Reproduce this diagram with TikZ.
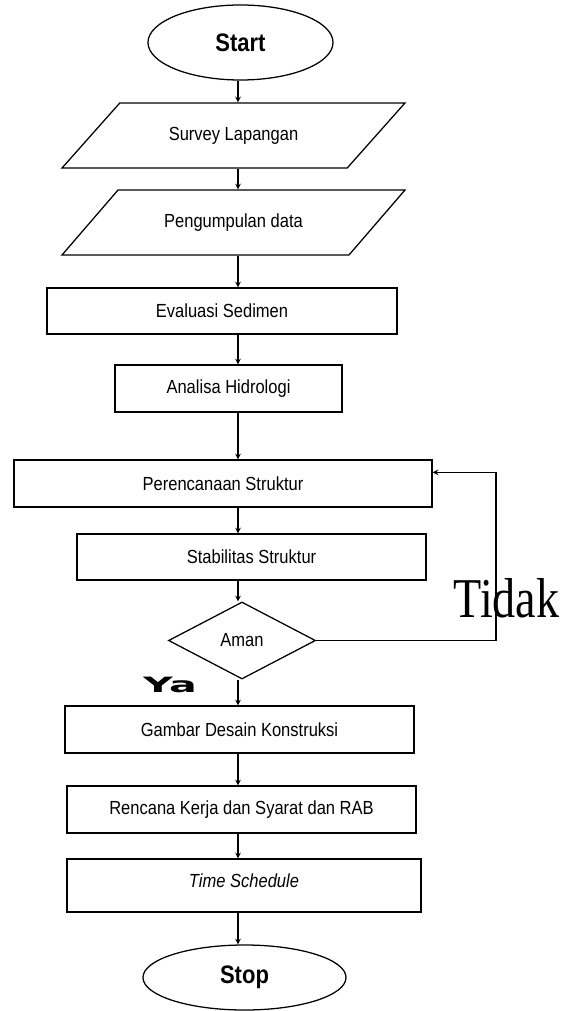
\documentclass[tikz,border=0pt]{standalone}
\usepackage{fontspec}
\setmainfont{Liberation Sans}
\newfontfamily\boxfont[FakeStretch=0.87]{Liberation Sans}
\newfontfamily\tidakfont{Liberation Serif}
\newfontfamily\yafont{DejaVu Sans}
\usepackage{tikz}
\usetikzlibrary{calc,arrows,shapes.geometric}

\begin{document}
\begin{tikzpicture}[x=0.025cm,y=-0.025cm,
  every node/.style={font=\boxfont\fontsize{13.5}{15}\selectfont},
  box/.style={draw,line width=0.9pt,rectangle,minimum height=1.175cm},
  oval/.style={draw,line width=0.9pt,ellipse,inner sep=0pt,
    font=\boxfont\fontsize{18}{20}\selectfont\bfseries},
  slant/.style={draw,line width=0.9pt,trapezium,trapezium stretches=true,
    trapezium left angle=37,trapezium right angle=143,
    minimum width=8.575cm,minimum height=1.625cm},
  arr/.style={line width=0.8pt,-stealth}]
\useasboundingbox (0,0) rectangle (569,1011);

\node[oval,minimum width=4.625cm,minimum height=1.875cm] (start) at (240.5,42.5) {Start};
\node[slant] (survey) at (233.5,135.5) {Survey Lapangan};
\node[slant] (data) at (233.5,222.5) {Pengumpulan data};
\node[box,minimum width=8.75cm,minimum height=1.15cm] (evaluasi) at (222,311) {Evaluasi Sedimen};
\node[box,minimum width=5.675cm] (hidro) at (228.5,388.5) {Analisa Hidrologi};
\node[box,minimum width=10.45cm] (rencana) at (223,483.5) {Perencanaan Struktur};
\node[box,minimum width=8.725cm,minimum height=1.15cm] (stabil) at (251.5,557) {Stabilitas Struktur};
\node[draw,line width=0.9pt,diamond,inner sep=0pt,minimum width=3.675cm,minimum height=1.925cm] (aman) at (242,640.5) {Aman};
\node[box,minimum width=8.725cm] (gambar) at (239.5,729.5) {Gambar Desain Konstruksi};
\node[box,minimum width=8.725cm] (rab) at (241.5,809.5) {Rencana Kerja dan Syarat dan RAB};
\node[box,minimum width=8.85cm,minimum height=1.325cm,text depth=7pt] (jadwal) at (244,885.5) {\itshape Time Schedule};
\node[oval,minimum width=5.075cm,minimum height=1.625cm] (stop) at (244.5,977.5) {Stop};

% arrows down the middle
\coordinate (axis) at (238,0);
\draw[arr] (axis |- start.south) -- (axis |- survey.north);
\draw[arr] (axis |- survey.south) -- (axis |- data.north);
\draw[arr] (axis |- data.south) -- (axis |- evaluasi.north);
\draw[arr] (axis |- evaluasi.south) -- (axis |- hidro.north);
\draw[arr] (axis |- hidro.south) -- (axis |- rencana.north);
\draw[arr] (axis |- rencana.south) -- (axis |- stabil.north);
\draw[arr] (axis |- stabil.south) -- (axis |- aman.north);
\draw[arr] (axis |- aman.south) -- (axis |- gambar.north);
\draw[arr] (axis |- gambar.south) -- (axis |- rab.north);
\draw[arr] (axis |- rab.south) -- (axis |- jadwal.north);
\draw[arr] (axis |- jadwal.south) -- (axis |- stop.north);

% loop back
\coordinate (back) at (496,0);
\draw[arr] (aman.east) -- (aman.east -| back) |- ($(rencana.north east)+(0,13)$);

\node[font=\tidakfont\fontsize{40}{40}\selectfont,anchor=base] (tidak) at (506.5,617) {\scalebox{0.82}[1]{Tidak}};
\node[font=\yafont\bfseries\fontsize{15}{15}\selectfont,anchor=base] (ya) at (170,692) {\scalebox{1.95}[1]{Ya}};
\end{tikzpicture}
\end{document}
